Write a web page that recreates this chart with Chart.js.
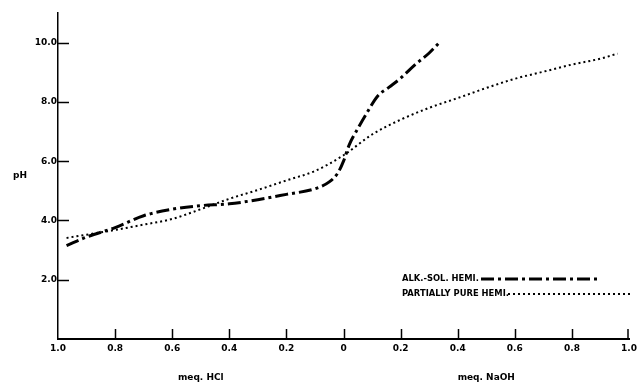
<!DOCTYPE html>
<html>
<head>
<meta charset="utf-8">
<script src="https://cdn.jsdelivr.net/npm/chart.js@4.4.1/dist/chart.umd.min.js"></script>
<style>
	html, body { margin: 0; padding: 0; background: #fff; }
	canvas { display: block; }
</style>
</head>
<body>
<canvas id="chartPH" width="641" height="384"></canvas>
<script>
// meq. acid is negative (HCl), meq. base positive (NaOH)
const alkSolMeq = [-0.97, -0.9, -0.8, -0.7, -0.6, -0.5, -0.4, -0.3, -0.2, -0.1, -0.05, -0.02, 0, 0.02, 0.05, 0.08, 0.12, 0.16, 0.2, 0.25, 0.3, 0.34];
const alkSolPH = [3.15, 3.44, 3.76, 4.16, 4.38, 4.5, 4.56, 4.7, 4.88, 5.07, 5.3, 5.6, 6.0, 6.55, 7.1, 7.6, 8.2, 8.5, 8.8, 9.25, 9.65, 10.05];

const partPureMeq = [-0.97, -0.9, -0.8, -0.7, -0.6, -0.5, -0.4, -0.3, -0.2, -0.1, 0, 0.1, 0.2, 0.3, 0.4, 0.5, 0.6, 0.7, 0.8, 0.9, 0.96];
const partPurePH = [3.41, 3.52, 3.68, 3.86, 4.05, 4.38, 4.73, 5.03, 5.35, 5.67, 6.2, 6.9, 7.4, 7.8, 8.13, 8.47, 8.78, 9.02, 9.26, 9.46, 9.63];

const yTickValues = [2, 4, 6, 8, 10];
const seriesNames = ['ALK.-SOL. HEMI.', 'PARTIALLY PURE HEMI.'];
const axisNames = ['meq. HCl', 'meq. NaOH', 'pH'];

const FONT = 'bold 9px "DejaVu Sans"';
const LEGEND_FONT = 'bold 8.4px "DejaVu Sans"';
const dashDot = [13, 4, 3, 4];
const dotted = [2, 3];

function toPoints(xs, ys) {
	return xs.map((x, i) => ({x: x, y: ys[i]}));
}

// tick marks pointing into the plot, titles and the hand-drawn style legend
const paperPlugin = {
	id: 'paperAxes',
	afterDraw: (chart) => {
		const {ctx, scales: {x, y}} = chart;
		ctx.save();
		ctx.strokeStyle = '#000';
		ctx.lineWidth = 1.5;
		x.ticks.forEach(t => {
			if (t.value < -0.99) return;
			let px = Math.round(x.getPixelForValue(t.value)) + 0.5;
			if (t.value > 0.99) px -= 1.5;
			ctx.beginPath();
			ctx.moveTo(px, y.bottom);
			ctx.lineTo(px, y.bottom - 10);
			ctx.stroke();
		});
		y.ticks.forEach(t => {
			const py = Math.round(y.getPixelForValue(t.value)) + 0.5;
			ctx.beginPath();
			ctx.moveTo(x.left, py);
			ctx.lineTo(x.left + 11, py);
			ctx.stroke();
		});

		ctx.fillStyle = '#000';
		ctx.font = FONT;
		ctx.textAlign = 'center';
		ctx.textBaseline = 'middle';
		ctx.fillText(axisNames[0], x.getPixelForValue(-0.5), 378);
		ctx.fillText(axisNames[1], x.getPixelForValue(0.5), 378);
		ctx.fillText(axisNames[2], 20, y.getPixelForValue(5.5));

		// legend
		ctx.font = LEGEND_FONT;
		ctx.textAlign = 'left';
		ctx.fillText(seriesNames[0], 402, 279);
		ctx.fillText(seriesNames[1], 402, 294);
		ctx.lineWidth = 3;
		ctx.setLineDash(dashDot);
		ctx.beginPath();
		ctx.moveTo(481, 279);
		ctx.lineTo(598, 279);
		ctx.stroke();
		ctx.lineWidth = 2;
		ctx.setLineDash(dotted);
		ctx.beginPath();
		ctx.moveTo(508, 294);
		ctx.lineTo(633, 294);
		ctx.stroke();
		ctx.restore();
	}
};

let chartPHConfig = {
	type: 'line',
	data: {
		datasets: [
			{
				label: seriesNames[0],
				data: toPoints(alkSolMeq, alkSolPH),
				borderColor: '#000',
				borderWidth: 3,
				borderDash: dashDot,
				pointRadius: 0,
				cubicInterpolationMode: 'monotone',
				fill: false
			},
			{
				label: seriesNames[1],
				data: toPoints(partPureMeq, partPurePH),
				borderColor: '#000',
				borderWidth: 2,
				borderDash: dotted,
				pointRadius: 0,
				cubicInterpolationMode: 'monotone',
				fill: false
			}
		]
	},
	options: {
		responsive: false,
		animation: false,
		layout: {
			padding: {top: 13, right: 3, left: 0, bottom: 0}
		},
		scales: {
			x: {
				type: 'linear',
				min: -1,
				max: 1,
				ticks: {
					stepSize: 0.2,
					padding: 4,
					color: '#000',
					font: {family: 'DejaVu Sans', size: 9, weight: 'bold'},
					maxRotation: 0,
					callback: (v) => Math.abs(v) < 0.001 ? '0' : Math.abs(v).toFixed(1)
				},
				grid: {display: false, drawTicks: false},
				border: {display: true, color: '#000', width: 2},
				afterFit: (s) => { s.height = 45; }
			},
			y: {
				min: 0,
				max: 11,
				afterBuildTicks: (s) => { s.ticks = yTickValues.map(v => ({value: v})); },
				ticks: {
					padding: 1,
					color: '#000',
					font: {family: 'DejaVu Sans', size: 9, weight: 'bold'},
					callback: (v) => v.toFixed(1)
				},
				grid: {display: false, drawTicks: false},
				border: {display: true, color: '#000', width: 1.5},
				afterFit: (s) => { s.width = 58; }
			}
		},
		plugins: {
			legend: {display: false},
			tooltip: {enabled: false}
		}
	},
	plugins: [paperPlugin]
};

new Chart(document.getElementById('chartPH').getContext('2d'), chartPHConfig);
</script>
</body>
</html>
